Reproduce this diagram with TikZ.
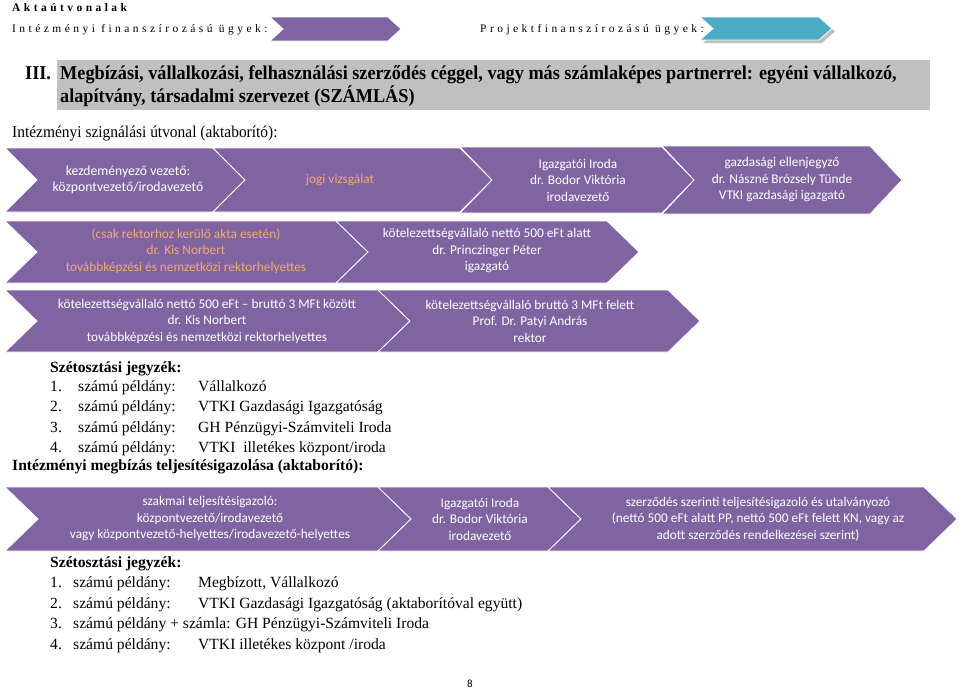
\documentclass[tikz,border=0pt]{standalone}
\usepackage{fontspec}
\setmainfont{Liberation Serif}
\newfontfamily\calibfont{Carlito}
\newfontfamily\spacedfont[LetterSpace=30]{Liberation Serif}
\newfontfamily\narrowfont[FakeStretch=0.93]{Liberation Serif}
\definecolor{chevpurple}{HTML}{8064A2}
\definecolor{chevteal}{HTML}{4BACC6}
\definecolor{chevorange}{HTML}{F4A873}
\definecolor{headgray}{HTML}{C0C0C0}
\tikzset{
  chevron/.style={fill=chevpurple, draw=white, line width=0.8pt},
  chevtext/.style={font=\calibfont\fontsize{13.3}{16.5}\selectfont, text=white, align=center, inner sep=0pt},
  bodytext/.style={font=\fontsize{15.6}{18}\selectfont, anchor=west, inner sep=0pt, text height=11pt, text depth=3pt},
  boldtext/.style={bodytext, font=\bfseries\fontsize{15.6}{18}\selectfont},
  headtext/.style={bodytext, font=\narrowfont\bfseries\fontsize{19.6}{22}\selectfont},
  toptext/.style={font=\spacedfont\fontsize{11.5}{13}\selectfont, anchor=west, inner sep=0pt, text height=8pt, text depth=2pt},
}
\newcommand\chevbox[6][chevron]{%
  \draw[#1] (#2,#4) -- (#3,#4) -- ({#3+#6},{(#4+#5)/2}) -- (#3,#5) -- (#2,#5) -- ({#2+#6},{(#4+#5)/2}) -- cycle;}

\begin{document}
\begin{tikzpicture}[x=1pt, y=-1pt]
  \useasboundingbox (0,0) rectangle (960,691);

  \node[toptext, font=\spacedfont\bfseries\fontsize{11.5}{13}\selectfont] (akta) at (12,8) {Aktaútvonalak};
  \node[toptext] (intfin) at (12,29) {Intézményi finanszírozású ügyek:};
  \node[toptext] (projfin) at (480,29) {Projektfinanszírozású ügyek:};
  \chevbox{270}{388}{17}{41}{13}
  \chevbox[fill=black!25, draw=none]{703}{822}{20}{43}{13}
  \chevbox[chevron, fill=chevteal]{700}{819}{17}{40}{13}

  \fill[headgray] (57,60) rectangle (930,110);
  \node[headtext] (roman) at (25,75) {III.};
  \node[headtext] (headA) at (60,75)
    {Megbízási, vállalkozási, felhasználási szerződés céggel, vagy más számlaképes partnerrel: egyéni vállalkozó,};
  \node[headtext] (headB) at (60,98) {alapítvány, társadalmi szervezet (SZÁMLÁS)};
  \node[bodytext, font=\narrowfont\fontsize{16.6}{18}\selectfont] (szign) at (12,133)
    {Intézményi szignálási útvonal (aktaborító):};

  \chevbox{5}{213}{148}{212}{32}
  \chevbox{213}{460}{148}{212}{32}
  \chevbox{460}{662}{147}{213}{32}
  \chevbox{662}{870}{146}{214}{32}
  \node[chevtext, font=\calibfont\fontsize{13.7}{16.5}\selectfont] (kezdem) at (128,180)
    {kezdeményező vezető:\\központvezető/irodavezető};
  \node[chevtext, text=chevorange] (jogi) at (340,180) {jogi vizsgálat};
  \node[chevtext] (igazgA) at (578,180) {Igazgatói Iroda\\dr. Bodor Viktória\\irodavezető};
  \node[chevtext] (gazd) at (782,180) {gazdasági ellenjegyző\\dr. Nászné Brózsely Tünde\\VTKI gazdasági igazgató};

  \chevbox{5}{336}{221}{283}{32}
  \chevbox{336}{607}{221}{283}{32}
  \node[chevtext, text=chevorange] (rektorA) at (186,251)
    {(csak rektorhoz kerülő akta esetén)\\dr. Kis Norbert\\továbbképzési és nemzetközi rektorhelyettes};
  \node[chevtext] (alatt) at (487,251) {kötelezettségvállaló nettó 500 eFt alatt\\dr. Princzinger Péter\\igazgató};

  \chevbox{5}{378}{290}{352}{32}
  \chevbox{378}{668}{290}{352}{32}
  \node[chevtext] (kozott) at (207,321)
    {kötelezettségvállaló nettó 500 eFt – bruttó 3 MFt között\\dr. Kis Norbert\\továbbképzési és nemzetközi rektorhelyettes};
  \node[chevtext] (felett) at (530,321) {kötelezettségvállaló bruttó 3 MFt felett\\Prof. Dr. Patyi András\\rektor};

  \node[boldtext] (jegyzA) at (50,368) {Szétosztási jegyzék:};
  \foreach \n/\y/\val in {1/387/Vállalkozó, 2/407.5/VTKI Gazdasági Igazgatóság,
      3/428/GH Pénzügyi-Számviteli Iroda, 4/448.5/{VTKI\ \ illetékes központ/iroda}} {
    \node[bodytext] (numA\n) at (50,\y) {\n.};
    \node[bodytext] (pldA\n) at (78,\y) {számú példány:};
    \node[bodytext] (valA\n) at (198,\y) {\val};
  }
  \node[boldtext] (teljes) at (12,466) {Intézményi megbízás teljesítésigazolása (aktaborító):};

  \chevbox{5}{378}{487}{551}{33}
  \chevbox{378}{548}{487}{551}{33}
  \chevbox{548}{924}{487}{551}{33}
  \node[chevtext] (szakmai) at (210,519)
    {szakmai teljesítésigazoló:\\központvezető/irodavezető\\vagy központvezető-helyettes/irodavezető-helyettes};
  \node[chevtext] (igazgB) at (480,519) {Igazgatói Iroda\\dr. Bodor Viktória\\irodavezető};
  \node[chevtext] (utalv) at (758,519)
    {szerződés szerinti teljesítésigazoló és utalványozó\\(nettó 500 eFt alatt PP, nettó 500 eFt felett KN, vagy az\\adott szerződés rendelkezései szerint)};

  \node[boldtext] (jegyzB) at (50,563) {Szétosztási jegyzék:};
  \foreach \n/\y/\val in {1/583/{Megbízott, Vállalkozó}, 2/604/VTKI Gazdasági Igazgatóság (aktaborítóval együtt),
      4/645/{VTKI illetékes központ /iroda}} {
    \node[bodytext] (numB\n) at (50,\y) {\n.};
    \node[bodytext] (pldB\n) at (73,\y) {számú példány:};
    \node[bodytext] (valB\n) at (198,\y) {\val};
  }
  \node[bodytext] (numB3) at (50,624.5) {3.};
  \node[bodytext] (pldB3) at (73,624.5) {számú példány + számla: GH Pénzügyi-Számviteli Iroda};

  \node[font=\calibfont\fontsize{11}{13}\selectfont, inner sep=0pt] (page) at (470,684) {8};
\end{tikzpicture}
\end{document}
